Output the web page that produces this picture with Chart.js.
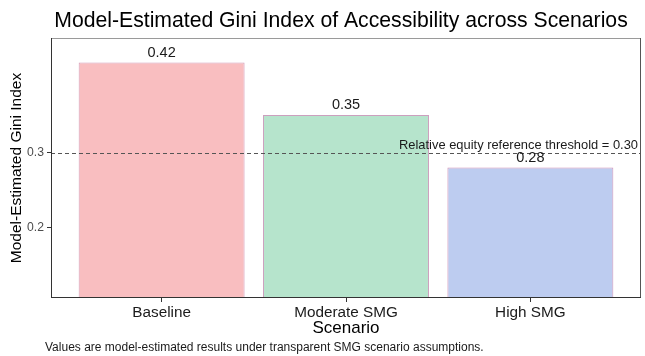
<!DOCTYPE html>
<html>
<head>
<meta charset="utf-8">
<script src="https://cdn.jsdelivr.net/npm/chart.js@4.4.1/dist/chart.umd.min.js"></script>
<style>
  html, body { margin: 0; padding: 0; background: #ffffff; }
  #wrap { width: 645px; height: 356px; }
</style>
</head>
<body>
<div id="wrap"><canvas id="chart" width="645" height="356"></canvas></div>
<script>
// Scenario categories and model-estimated Gini values
const scenarios = ["Baseline", "Moderate SMG", "High SMG"];
const giniValues = [0.42, 0.35, 0.28];
const valueLabels = ["0.42", "0.35", "0.28"];
const yTicks = [0.2, 0.3];
const thresholdValue = 0.30;
const thresholdLabel = "Relative equity reference threshold = 0.30";

const titleText = "Model-Estimated Gini Index of Accessibility across Scenarios";
const yTitle = "Model-Estimated Gini Index";
const xTitle = "Scenario";
const captionText = "Values are model-estimated results under transparent SMG scenario assumptions.";

const FONT = "'Liberation Sans', Arial, Helvetica, sans-serif";
const fillColors = ["rgba(249,190,192,1)", "rgba(182,228,204,1)", "rgba(189,204,240,1)"];
const strokeColors = ["#d49cb8", "#cc9fbe", "#d091b6"];

const Y_MIN = 0.106;
const Y_MAX = 0.4527;

// Extra drawing: panel frame, threshold line, value labels, title and caption
const decorPlugin = {
  id: 'decor',
  afterDatasetsDraw(chart) {
    const { ctx, chartArea: a, scales } = chart;
    const y = scales.y;
    ctx.save();
    // threshold line
    const ty = Math.round(y.getPixelForValue(thresholdValue)) + 0.5;
    ctx.strokeStyle = '#555555';
    ctx.lineWidth = 1;
    ctx.setLineDash([4, 3]);
    ctx.beginPath();
    ctx.moveTo(a.left, ty);
    ctx.lineTo(a.right, ty);
    ctx.stroke();
    ctx.setLineDash([]);
    ctx.fillStyle = '#1a1a1a';
    ctx.font = "12.9px " + FONT;
    ctx.textAlign = 'right';
    ctx.textBaseline = 'alphabetic';
    ctx.fillText(thresholdLabel, a.right - 3, ty - 5);

    // value labels above bars
    const meta = chart.getDatasetMeta(0);
    ctx.font = "14.5px " + FONT;
    ctx.textAlign = 'center';
    meta.data.forEach((bar, i) => {
      ctx.fillText(valueLabels[i], bar.x, bar.y - 6);
    });

    // panel frame
    ctx.lineWidth = 1;
    ctx.strokeStyle = '#9a9a9a';
    ctx.beginPath();
    ctx.moveTo(a.left, a.top + 0.5);
    ctx.lineTo(a.right, a.top + 0.5);
    ctx.stroke();
    ctx.strokeStyle = '#555555';
    ctx.beginPath();
    ctx.moveTo(a.right - 0.5, a.top);
    ctx.lineTo(a.right - 0.5, a.bottom);
    ctx.stroke();
    ctx.strokeStyle = '#333333';
    ctx.beginPath();
    ctx.moveTo(a.left + 0.5, a.top);
    ctx.lineTo(a.left + 0.5, a.bottom);
    ctx.moveTo(a.left, a.bottom - 0.5);
    ctx.lineTo(a.right, a.bottom - 0.5);
    ctx.stroke();

    // title
    ctx.fillStyle = '#000000';
    ctx.font = "21.2px " + FONT;
    ctx.textAlign = 'center';
    ctx.fillText(titleText, 341, 27);

    // caption
    ctx.fillStyle = '#1a1a1a';
    ctx.font = "12px " + FONT;
    ctx.textAlign = 'left';
    ctx.fillText(captionText, 45, 351);
    ctx.restore();
  }
};

new Chart(document.getElementById('chart'), {
  type: 'bar',
  data: {
    datasets: [{
      data: giniValues.map((v, i) => ({ x: i + 1, y: v })),
      base: Y_MIN,
      backgroundColor: fillColors,
      borderColor: strokeColors,
      borderWidth: 1,
      borderSkipped: 'bottom',
      categoryPercentage: 1,
      barPercentage: 0.9
    }]
  },
  options: {
    responsive: false,
    animation: false,
    devicePixelRatio: 1,
    layout: { padding: { top: 38, right: 4, left: 0, bottom: 17 } },
    plugins: {
      legend: { display: false },
      tooltip: { enabled: false },
      title: { display: false }
    },
    scales: {
      x: {
        type: 'linear',
        min: 0.4,
        max: 3.6,
        offset: false,
        afterBuildTicks(scale) {
          scale.ticks = scenarios.map((_, i) => ({ value: i + 1 }));
        },
        afterFit(scale) { scale.height = 41; },
        ticks: {
          callback: (v) => scenarios[Math.round(v) - 1] || '',
          color: '#1a1a1a',
          font: { family: FONT, size: 15.3 },
          padding: 2,
          maxRotation: 0,
          autoSkip: false
        },
        grid: {
          offset: false,
          drawOnChartArea: false,
          drawTicks: true,
          tickLength: 4,
          color: '#333333'
        },
        border: { display: false },
        title: {
          display: true,
          text: xTitle,
          color: '#000000',
          font: { family: FONT, size: 17 },
          padding: { top: 0, bottom: 0 }
        }
      },
      y: {
        min: Y_MIN,
        max: Y_MAX,
        afterBuildTicks(scale) {
          scale.ticks = yTicks.map(v => ({ value: v }));
        },
        afterFit(scale) { scale.width = 51; },
        ticks: {
          callback: (v) => v.toFixed(1),
          color: '#4d4d4d',
          font: { family: FONT, size: 12.2 },
          padding: 3
        },
        grid: {
          drawOnChartArea: false,
          drawTicks: true,
          tickLength: 4,
          color: '#333333'
        },
        border: { display: false },
        title: {
          display: true,
          text: yTitle,
          color: '#000000',
          font: { family: FONT, size: 15.5 },
          padding: { top: 7, bottom: 0 }
        }
      }
    }
  },
  plugins: [decorPlugin]
});
</script>
</body>
</html>
